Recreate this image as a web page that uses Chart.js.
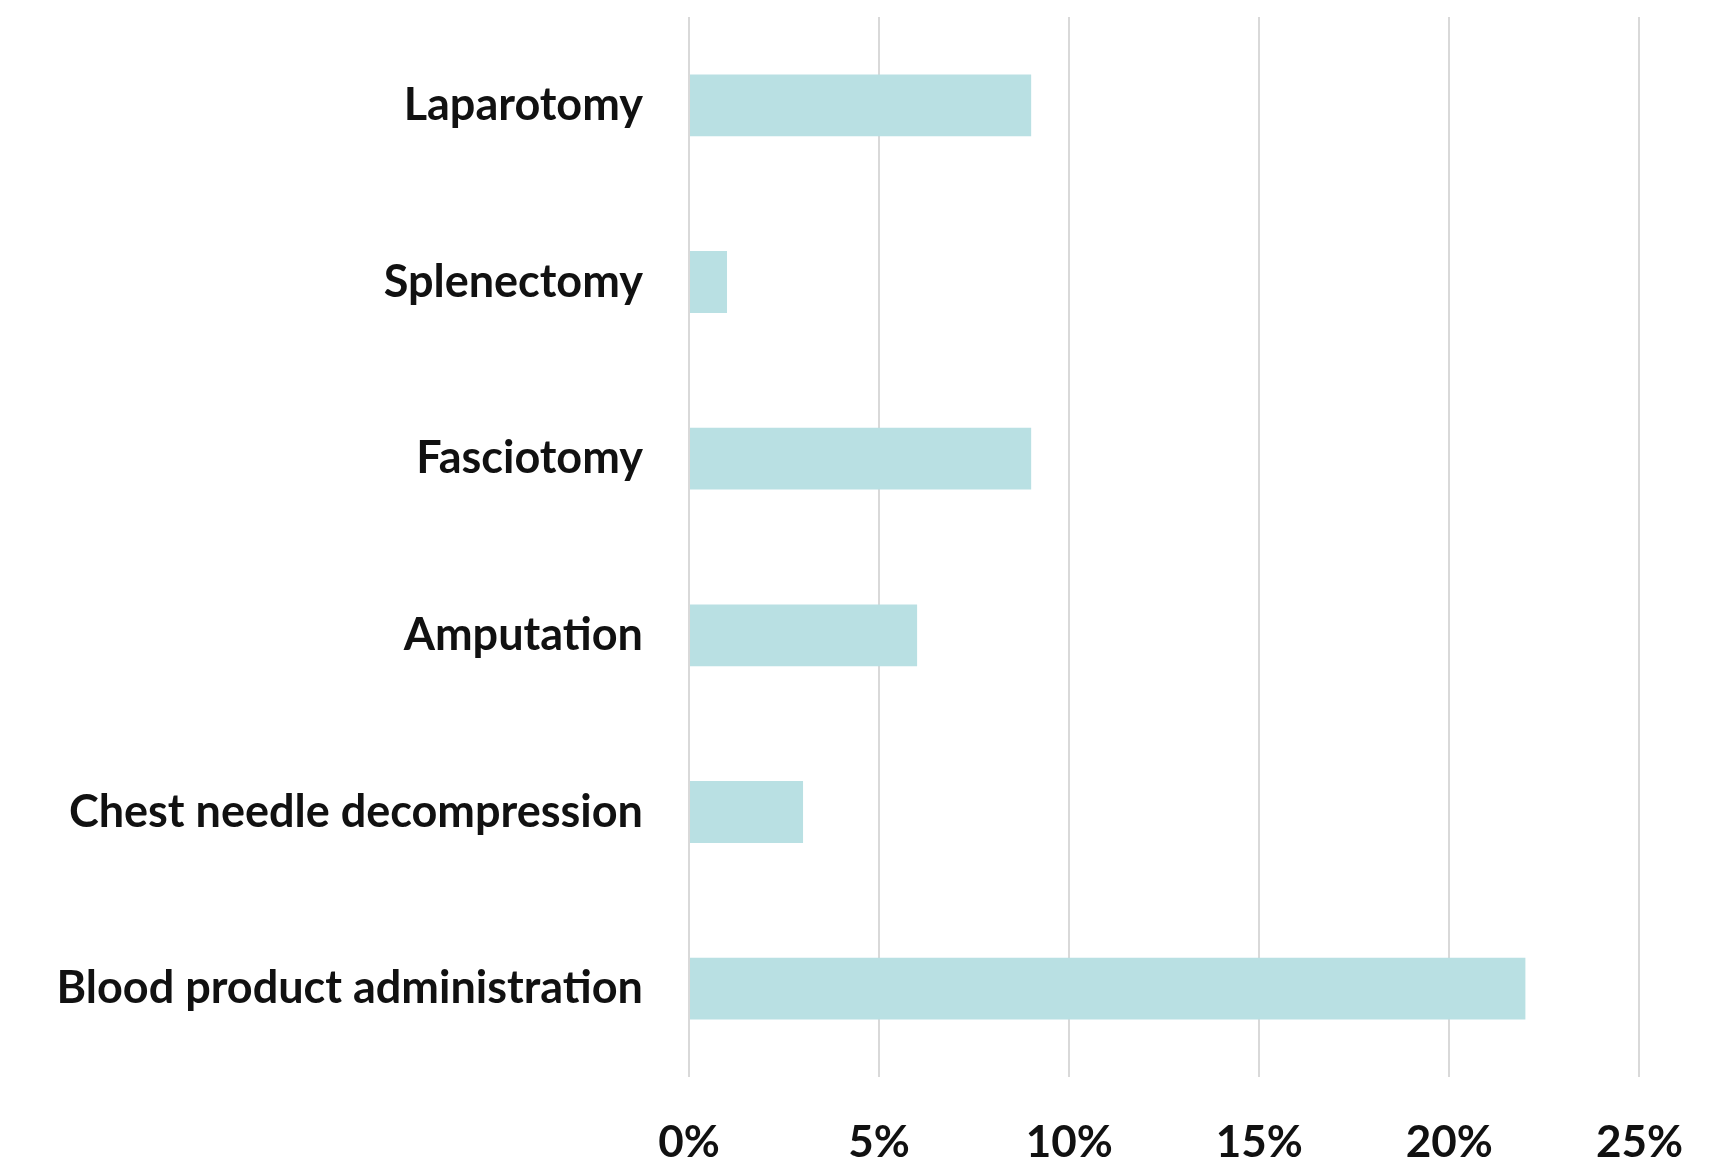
<!DOCTYPE html>
<html>
<head>
<meta charset="utf-8">
<script src="https://cdn.jsdelivr.net/npm/chart.js@4/dist/chart.umd.min.js"></script>
<style>
  html, body { margin: 0; padding: 0; background: #fff; }
  canvas { display: block; }
</style>
</head>
<body>
<canvas id="bar-chart" width="1722" height="1162"></canvas>
<script>
// procedures, top to bottom
const procedures = [
  "Laparotomy",
  "Splenectomy",
  "Fasciotomy",
  "Amputation",
  "Chest needle decompression",
  "Blood product administration",
];
const percentages = [9, 1, 9, 6, 3, 22];
const xTicks = [0, 5, 10, 15, 20, 25];

new Chart(document.getElementById("bar-chart"), {
  type: "bar",
  data: {
    labels: procedures,
    datasets: [
      {
        data: percentages,
        backgroundColor: "#b9e0e3",
        borderWidth: 0,
        categoryPercentage: 1,
        barPercentage: 0.35,
      },
    ],
  },
  options: {
    indexAxis: "y",
    responsive: false,
    animation: false,
    devicePixelRatio: 1,
    layout: { padding: { top: 17, right: 81, bottom: 0, left: 0 } },
    plugins: {
      legend: { display: false },
      tooltip: { enabled: false },
    },
    scales: {
      x: {
        min: xTicks[0],
        max: xTicks[xTicks.length - 1],
        afterBuildTicks: (scale) => {
          scale.ticks = xTicks.map((v) => ({ value: v }));
        },
        afterFit: (scale) => {
          scale.height = 85;
        },
        grid: { color: "#d9d9d9", lineWidth: 2, drawTicks: false },
        border: { display: false },
        ticks: {
          color: "#111",
          font: { family: "Lato", weight: "bold", size: 44 },
          padding: 39,
          maxRotation: 0,
          callback: (v) => v + "%",
        },
      },
      y: {
        afterFit: (scale) => {
          // fixed label column, no extra room above/below the bars
          scale.width = 689;
          scale.paddingTop = 0;
          scale.paddingBottom = 0;
        },
        grid: { display: false, drawTicks: false },
        border: { display: false },
        ticks: {
          color: "#111",
          font: { family: "Lato", weight: "bold", size: 45 },
          padding: 46,
        },
      },
    },
  },
});
</script>
</body>
</html>
